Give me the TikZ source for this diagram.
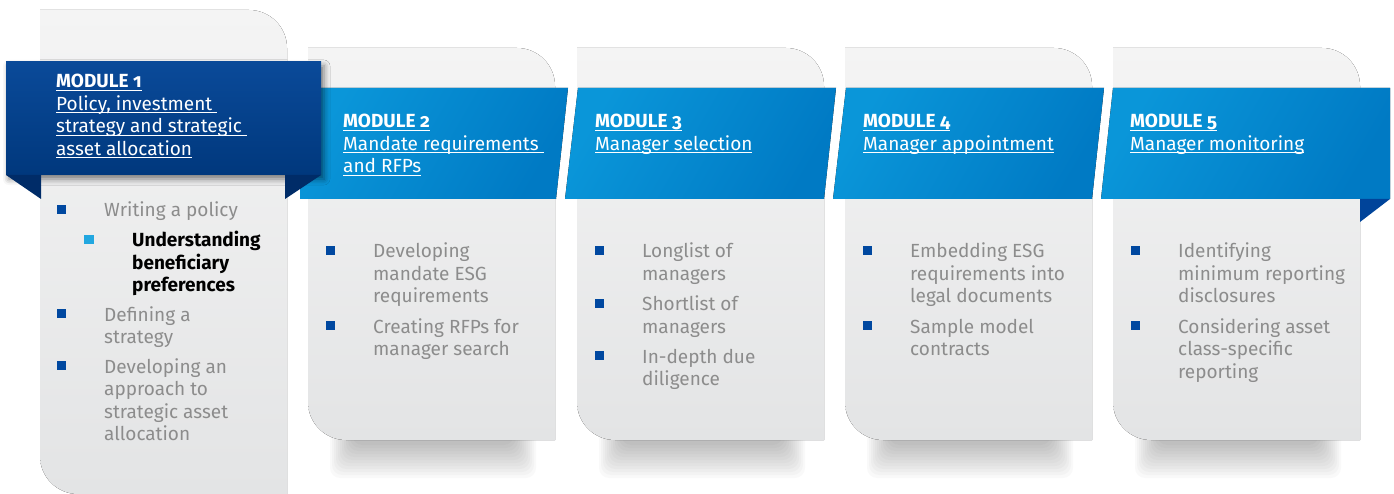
\documentclass[tikz,border=0pt]{standalone}
\usepackage{fontspec}
\setmainfont{Fira Sans}[Numbers=OldStyle]
\usetikzlibrary{shadows.blur}
\definecolor{navytop}{HTML}{0A4A99}
\definecolor{navybot}{HTML}{00387D}
\definecolor{navyfold}{HTML}{002C68}
\definecolor{skytop}{HTML}{0A96D9}
\definecolor{skybot}{HTML}{007AC4}
\definecolor{skyfold}{HTML}{00449A}
\definecolor{cardtop}{HTML}{F4F4F4}
\definecolor{cardbot}{HTML}{E3E4E5}
\definecolor{itemgray}{HTML}{8C8C8C}
\definecolor{bulletblue}{HTML}{0048A0}
\definecolor{subblue}{HTML}{22A7E0}
\newcommand{\ulin}[1]{\setbox0\hbox{#1}\rlap{\rule[-3pt]{\wd0}{1.1pt}}\box0}
\newcommand{\rows}[1]{\begin{tabular}[t]{@{}l@{}}#1\end{tabular}}
\newcommand{\modcard}[4]{\fill[card] {[rounded corners=38pt] (#1,#2) rectangle (#3,#4)}
  (#1,#2) rectangle (#1+40,#2+40) (#3-40,#4-40) rectangle (#3,#4);}
\newcommand{\bitem}[5][itm]{\node[bul] (#2b) at (#3-43,#4-7.5) {};
  \node[#1] (#2) at (#3,#4) {\rows{#5}};}
\begin{document}
\begin{tikzpicture}[x=1pt,y=-1pt,
  card/.style={top color=cardtop, bottom color=cardbot},
  cardshadow/.style={black, opacity=.024, rounded corners=10pt},
  navy/.style={top color=navytop, bottom color=navybot},
  sky/.style={left color=skytop, right color=skybot, shading angle=60},
  head/.style={anchor=base west, inner sep=0, text=white,
    font=\fontsize{19}{22.5}\selectfont},
  itm/.style={anchor=base west, inner sep=0, text=itemgray,
    font=\fontsize{19}{22.5}\selectfont},
  subitm/.style={itm, text=black, font=\fontsize{19}{22.5}\selectfont\bfseries},
  bul/.style={fill=bulletblue, minimum size=9pt, inner sep=0},
  ]
\useasboundingbox (0,0) rectangle (1394,494);
\modcard{40}{10}{287}{494}
\foreach \x in {308,577,845,1113}{
  \foreach \i in {0,...,11}
    \fill[cardshadow] (\x+22+2*\i,425) rectangle (\x+228-2*\i,478-3*\i);
  \modcard{\x}{48}{\x+247}{440}
}
\fill[sky] (300,88) -- (568,88) -- (556,199) -- (300,199) -- cycle;
\foreach \x in {577,845}
  \fill[sky] (\x+1,88) -- (\x+259,88) -- (\x+247,199) -- (\x-12,199) -- cycle;
\fill[sky] (1113,88) -- (1390,88) -- (1390,199) -- (1101,199) -- cycle;
\fill[skyfold] (1360,199) -- (1390,199) -- (1360,222) -- cycle;
\fill[navy, blur shadow={shadow xshift=3pt, shadow yshift=-4pt,
  shadow opacity=50, shadow blur radius=6pt}] (6,62) rectangle (321,175);
\fill[navyfold] (6,175) -- (41,175) -- (41,199) -- cycle;
\fill[navyfold] (285,175) -- (321,175) -- (285,199) -- cycle;

\node[head] (m1) at (56,88) {\rows{\ulin{\bfseries MODULE 1}\\ \ulin{Policy, investment\ }\\
  \ulin{strategy and strategic\ }\\ \ulin{asset allocation}}};
\node[head] (m2) at (343,128) {\rows{\ulin{\bfseries MODULE 2}\\ \ulin{Mandate requirements\ }\\ \ulin{and RFPs}}};
\node[head] (m3) at (595,128) {\rows{\ulin{\bfseries MODULE 3}\\ \ulin{Manager selection}}};
\node[head] (m4) at (863,128) {\rows{\ulin{\bfseries MODULE 4}\\ \ulin{Manager appointment}}};
\node[head] (m5) at (1130,128) {\rows{\ulin{\bfseries MODULE 5}\\ \ulin{Manager monitoring}}};

\bitem{a1}{104}{217}{Writing a policy}
\bitem[subitm]{a2}{132}{247}{Understanding\\beneficiary\\preferences}
\fill[subblue] (a2b.south west) rectangle (a2b.north east);
\bitem{a3}{104}{321}{Defining a\\strategy}
\bitem{a4}{104}{373}{Developing an\\approach to\\strategic asset\\allocation}

\bitem{b1}{373}{258}{Developing\\mandate ESG\\requirements}
\bitem{b2}{373}{333}{Creating RFPs for\\manager search}

\bitem{c1}{642}{258}{Longlist of\\managers}
\bitem{c2}{642}{310.5}{Shortlist of\\managers}
\bitem{c3}{642}{363}{In-depth due\\diligence}

\bitem{d1}{910}{258}{Embedding ESG\\requirements into\\legal documents}
\bitem{d2}{910}{333}{Sample model\\contracts}

\bitem{e1}{1178}{258}{Identifying\\minimum reporting\\disclosures}
\bitem{e2}{1178}{333}{Considering asset\\class-specific\\reporting}
\end{tikzpicture}
\end{document}
